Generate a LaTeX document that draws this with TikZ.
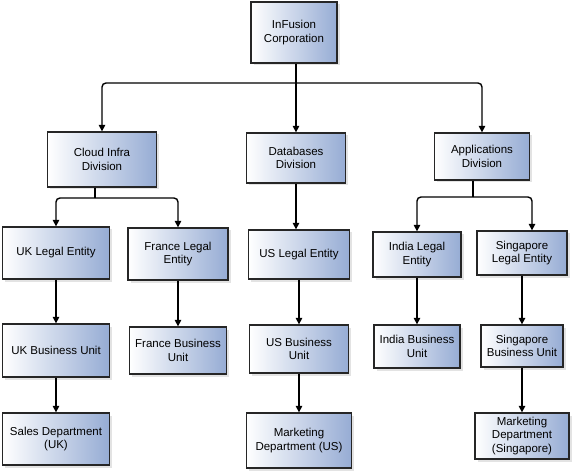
\documentclass[tikz,border=0pt]{standalone}
\usepackage{fontspec}
\setmainfont{Liberation Sans}
\usetikzlibrary{arrows.meta}
\usetikzlibrary{shadows}
\definecolor{unitblue}{RGB}{150,172,212}

\begin{document}
\begin{tikzpicture}[x=1pt,y=-1pt,>={Triangle[length=6.5pt,width=6.5pt]},
        unit/.style={draw=black!85,line width=1.3pt,left color=white,right color=unitblue,
                drop shadow={shadow xshift=2.5pt,shadow yshift=-2.5pt,fill=black!22},
                align=center,inner sep=0pt,font=\fontsize{11.5}{13.5}\selectfont},
        link/.style={->,line width=1.4pt,rounded corners=4pt}]
        \useasboundingbox (0,0) rectangle (573,473);
        \node[unit,minimum width=86pt,minimum height=61pt] (corp) at (294,32.5) {InFusion\\Corporation};
        \node[unit,minimum width=109pt,minimum height=55pt] (cloud) at (102,159.5) {Cloud Infra\\Division};
        \node[unit,minimum width=99pt,minimum height=50pt] (db) at (296,158) {Databases\\Division};
        \node[unit,minimum width=95pt,minimum height=47pt] (apps) at (482,156.5) {Applications\\Division};
        \node[unit,minimum width=107pt,minimum height=52pt] (ukle) at (56,253) {UK Legal Entity};
        \node[unit,minimum width=100pt,minimum height=52pt] (frle) at (178,254) {France Legal\\Entity};
        \node[unit,minimum width=101pt,minimum height=49pt] (usle) at (299,254.5) {US Legal Entity};
        \node[unit,minimum width=88pt,minimum height=45pt] (inle) at (417,254.5) {India Legal\\Entity};
        \node[unit,minimum width=90pt,minimum height=44pt] (sgle) at (522,253) {Singapore\\Legal Entity};
        \node[unit,minimum width=107pt,minimum height=53pt] (ukbu) at (56,350.5) {UK Business Unit};
        \node[unit,minimum width=97pt,minimum height=47pt] (frbu) at (178,350.5) {France Business\\Unit};
        \node[unit,minimum width=99pt,minimum height=48pt] (usbu) at (299,349) {US Business\\Unit};
        \node[unit,minimum width=86pt,minimum height=43pt] (inbu) at (417,346.5) {India Business\\Unit};
        \node[unit,minimum width=82pt,minimum height=42pt] (sgbu) at (522,346) {Singapore\\Business Unit};
        \node[unit,minimum width=107pt,minimum height=52pt] (sales) at (56,439) {Sales Department\\(UK)};
        \node[unit,minimum width=105pt,minimum height=55pt] (mkus) at (299,440.5) {Marketing\\Department (US)};
        \node[unit,minimum width=94pt,minimum height=46pt] (mksg) at (522,436) {Marketing\\Department\\(Singapore)};
        \coordinate (topbus) at (296,83);
        \coordinate (cloudbus) at (95,198);
        \coordinate (appsbus) at (473,197);
        \draw[link] (corp.south -| db.north) -- (db.north);
        \draw[link] (topbus) -| (cloud.north);
        \draw[link] (topbus) -| (apps.north);
        \draw[line width=1.4pt] (cloud.south -| cloudbus) -- (cloudbus);
        \draw[link] (cloudbus) -| (ukle.north);
        \draw[link] (cloudbus) -| (frle.north);
        \draw[line width=1.4pt] (apps.south -| appsbus) -- (appsbus);
        \draw[link] (appsbus) -| (inle.north);
        \draw[link] (appsbus) -| ([xshift=10pt]sgle.north);
        \foreach \a/\b in {db/usle,ukle/ukbu,ukbu/sales,frle/frbu,usle/usbu,usbu/mkus,inle/inbu,sgle/sgbu,sgbu/mksg}
                \draw[link] (\a.south) -- (\a.south |- \b.north);
\end{tikzpicture}
\end{document}
